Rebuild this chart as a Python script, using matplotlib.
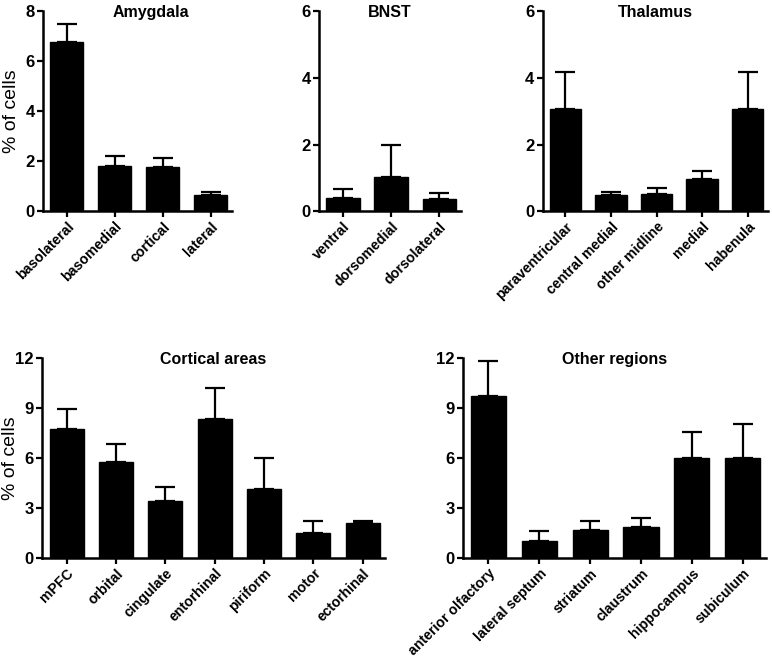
import matplotlib
matplotlib.use('Agg')
import matplotlib.pyplot as plt

plt.rcParams['font.family'] = ['Liberation Sans', 'DejaVu Sans']

# ---- data ----
amyg_labels = ['basolateral', 'basomedial', 'cortical', 'lateral']
amyg_mean = [6.75, 1.81, 1.77, 0.66]
amyg_err = [0.73, 0.40, 0.35, 0.11]

bnst_labels = ['ventral', 'dorsomedial', 'dorsolateral']
bnst_mean = [0.40, 1.04, 0.38]
bnst_err = [0.26, 0.96, 0.16]

thal_labels = ['paraventricular', 'central medial', 'other midline', 'medial', 'habenula']
thal_mean = [3.06, 0.50, 0.52, 0.98, 3.06]
thal_err = [1.12, 0.08, 0.19, 0.23, 1.12]

cort_labels = ['mPFC', 'orbital', 'cingulate', 'entorhinal', 'piriform', 'motor', 'ectorhinal']
cort_mean = [7.71, 5.78, 3.43, 8.35, 4.14, 1.49, 2.09]
cort_err = [1.23, 1.03, 0.83, 1.85, 1.88, 0.72, 0.14]

other_labels = ['anterior olfactory', 'lateral septum', 'striatum', 'claustrum',
                'hippocampus', 'subiculum']
other_mean = [9.70, 1.00, 1.70, 1.86, 6.00, 6.00]
other_err = [2.10, 0.60, 0.50, 0.56, 1.55, 2.02]


def bar_panel(fig, rect, labels, mean, err, title, ymax, yticks,
              ylabel=None, label_x=None, title_x=0.5):
    ax = fig.add_axes(rect)
    x = range(len(labels))
    ax.bar(x, mean, width=0.69, color='black', edgecolor='black')
    # only the upper half of the error bar, as in the original
    ax.errorbar(x, mean, yerr=[[0] * len(err), err], fmt='none',
                ecolor='black', elinewidth=1.6, capsize=7, capthick=1.6)
    ax.set_xlim(-0.5, len(labels) - 0.55)
    ax.set_ylim(0, ymax)
    ax.set_yticks(yticks)
    ax.set_xticks(list(x))
    ax.set_xticklabels(labels, rotation=45, ha='right', rotation_mode='anchor',
                       fontsize=10.2, fontweight='bold')
    for lab in ax.get_yticklabels():
        lab.set_fontsize(12)
        lab.set_fontweight('bold')
    for s in ['top', 'right']:
        ax.spines[s].set_visible(False)
    for s in ['left', 'bottom']:
        ax.spines[s].set_linewidth(1.8)
    ax.tick_params(width=1.6, length=4, direction='out', pad=2)
    ax.set_title(title, fontsize=11.5, fontweight='bold', x=title_x, y=0.93)
    if ylabel:
        ax.set_ylabel(ylabel, fontsize=14)
        ax.yaxis.set_label_coords(label_x, 0.5)
    return ax


fig = plt.figure(figsize=(7.72, 6.58), dpi=100)

bar_panel(fig, [0.0557, 0.679, 0.245, 0.304], amyg_labels, amyg_mean, amyg_err,
          'Amygdala', 8, [0, 2, 4, 6, 8], '% of cells', label_x=-0.12, title_x=0.57)
bar_panel(fig, [0.413, 0.679, 0.184, 0.304], bnst_labels, bnst_mean, bnst_err,
          'BNST', 6, [0, 2, 4, 6])
bar_panel(fig, [0.703, 0.679, 0.292, 0.304], thal_labels, thal_mean, thal_err,
          'Thalamus', 6, [0, 2, 4, 6])
bar_panel(fig, [0.0544, 0.152, 0.444, 0.304], cort_labels, cort_mean, cort_err,
          'Cortical areas', 12, [0, 3, 6, 9, 12], '% of cells', label_x=-0.067)
bar_panel(fig, [0.5997, 0.152, 0.392, 0.304], other_labels, other_mean, other_err,
          'Other regions', 12, [0, 3, 6, 9, 12])

fig.savefig('out.png', dpi=100)
